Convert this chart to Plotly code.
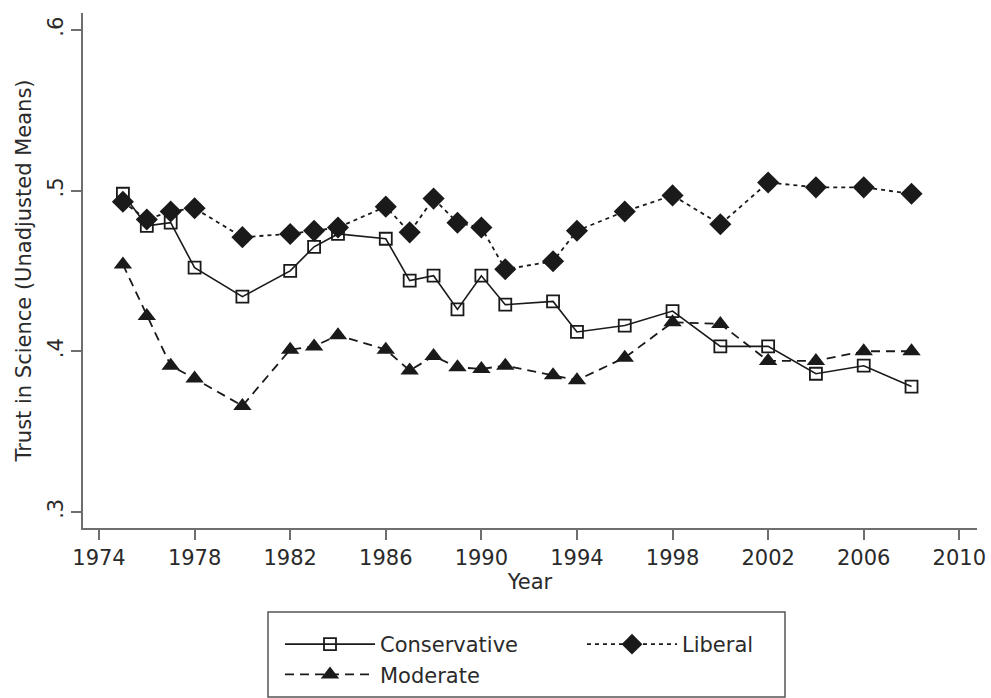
import plotly.graph_objects as go

# Survey years
years = [1975, 1976, 1977, 1978, 1980, 1982, 1983, 1984, 1986, 1987, 1988, 1989,
         1990, 1991, 1993, 1994, 1996, 1998, 2000, 2002, 2004, 2006, 2008]

# Mean trust in science by political identification
conservative = [.498, .478, .480, .452, .434, .450, .465, .473, .470, .444, .447, .426,
                .447, .429, .431, .412, .416, .425, .403, .403, .386, .391, .378]
liberal = [.493, .482, .487, .489, .471, .473, .475, .477, .490, .474, .495, .480,
           .477, .451, .456, .475, .487, .497, .479, .505, .502, .502, .498]
moderate = [.454, .422, .391, .383, .366, .401, .403, .410, .401, .388, .397, .390,
            .389, .391, .385, .382, .396, .418, .417, .394, .394, .400, .400]

x_ticks = list(range(1974, 2011, 4))
y_ticks = [.3, .4, .5, .6]
y_tick_text = [".3", ".4", ".5", ".6"]

FONT = "DejaVu Sans, Verdana, sans-serif"
INK = "#1a1a1a"
TEXT = "#2a2a2a"
AXIS = "#6e6e6e"

# plot area in pixels: x 83..977, y 13..528
PLOT_L, PLOT_W = 83, 894
PLOT_B, PLOT_H = 528, 515


def px_x(px):
    return (px - PLOT_L) / PLOT_W


def px_y(py):
    return (PLOT_B - py) / PLOT_H


fig = go.Figure()
fig.add_trace(go.Scatter(
    x=years, y=conservative, name="Conservative", mode="lines+markers",
    line=dict(color=INK, width=1.6, dash="solid"),
    marker=dict(symbol="square-open", size=12, color=INK, line=dict(width=1.8, color=INK)),
))
fig.add_trace(go.Scatter(
    x=years, y=liberal, name="Liberal", mode="lines+markers",
    line=dict(color=INK, width=1.8, dash="4px,4px"),
    marker=dict(symbol="diamond", size=17, color=INK),
))
fig.add_trace(go.Scatter(
    x=years, y=moderate, name="Moderate", mode="lines+markers",
    line=dict(color=INK, width=1.8, dash="9px,6px"),
    marker=dict(symbol="triangle-up", size=16, color=INK),
))

# frame around the key
fig.add_shape(
    type="rect", xref="paper", yref="paper",
    x0=px_x(268), x1=px_x(785), y0=px_y(697), y1=px_y(612),
    line=dict(color="#555555", width=1.5), fillcolor="rgba(0,0,0,0)",
)

fig.update_layout(
    width=991, height=698,
    margin=dict(l=PLOT_L, r=14, t=13, b=170, autoexpand=False),
    paper_bgcolor="white", plot_bgcolor="white",
    font=dict(family=FONT, size=21, color=TEXT),
    showlegend=True,
    legend=dict(
        orientation="h", x=px_x(582), xanchor="center", y=px_y(624), yanchor="top",
        borderwidth=0, bgcolor="rgba(0,0,0,0)",
        entrywidth=197, itemwidth=90,
        font=dict(family=FONT, size=21, color=TEXT),
        traceorder="normal",
    ),
    xaxis=dict(
        range=[1973.33, 2010.74], tickvals=x_ticks,
        ticks="outside", ticklen=10, tickwidth=1.5, tickcolor=AXIS,
        showline=True, linecolor=AXIS, linewidth=2,
        showgrid=False, zeroline=False,
        tickfont=dict(size=21),
        title=dict(text="Year", standoff=0, font=dict(size=21)),
    ),
    yaxis=dict(
        range=[0.290, 0.6105], tickvals=y_ticks, ticktext=y_tick_text,
        tickangle=-90,
        ticks="outside", ticklen=10, tickwidth=1.5, tickcolor=AXIS,
        showline=True, linecolor=AXIS, linewidth=2,
        showgrid=False, zeroline=False,
        tickfont=dict(size=21),
        title=dict(text="Trust in Science (Unadjusted Means)", standoff=6, font=dict(size=21)),
    ),
)

fig.write_html("out.html")
